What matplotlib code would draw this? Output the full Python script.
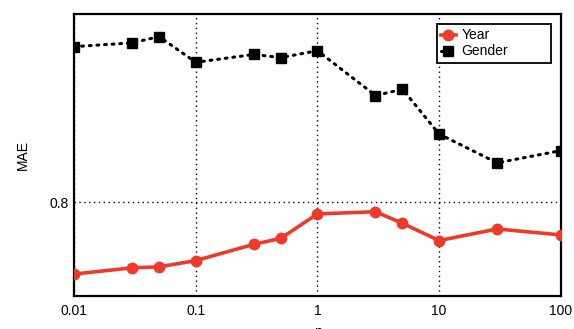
import matplotlib
matplotlib.use("Agg")
import matplotlib.pyplot as plt

n_values = [0.01, 0.03, 0.05, 0.1, 0.3, 0.5, 1, 3, 5, 10, 30, 100]
year_mae = [0.7770, 0.7790, 0.7793, 0.7813, 0.7865, 0.7884, 0.7962, 0.7969, 0.7932, 0.7877, 0.7914, 0.7895]
gender_mae = [0.8496, 0.8508, 0.8528, 0.8446, 0.8471, 0.8461, 0.8483, 0.8340, 0.8360, 0.8217, 0.8125, 0.8164]
x_ticks = [0.01, 0.1, 1, 10, 100]
x_tick_labels = ["0.01", "0.1", "1", "10", "100"]
y_ticks = [0.8]
y_tick_labels = ["0.8"]

plt.rcParams['font.family'] = ['Liberation Sans', 'DejaVu Sans']
fig = plt.figure(figsize=(5.74, 3.29), dpi=100)
ax = fig.add_axes([0.129, 0.1003, 0.848, 0.857])

red = '#ee3a2a'
ax.plot(n_values, year_mae, color=red, lw=2.6, marker='o', markersize=7.5,
        markerfacecolor=red, markeredgecolor=red, label='Year', zorder=3)
ax.plot(n_values, gender_mae, color='black', lw=2.2, linestyle=(0, (0.6, 1.9)),
        dash_capstyle='round', marker='s', markersize=7, markerfacecolor='black',
        markeredgecolor='black', label='Gender', zorder=3)

ax.set_xscale('log')
ax.set_xlim(0.01, 100)
ax.set_ylim(0.77, 0.86)
ax.set_xticks(x_ticks)
ax.set_xticklabels(x_tick_labels)
ax.minorticks_off()
ax.set_yticks(y_ticks)
ax.set_yticklabels(y_tick_labels)
ax.tick_params(axis='x', length=0, labelsize=10, pad=6)
ax.tick_params(axis='y', length=0, labelsize=10, pad=4)
ax.grid(True, which='major', color='black', linestyle=(0, (1, 2.5)), lw=1.0)
for s in ax.spines.values():
    s.set_linewidth(1.6)
ax.set_xlabel('n', fontsize=10, labelpad=5)
ax.set_ylabel('MAE', fontsize=10, labelpad=14)

leg = ax.legend(loc='upper left', bbox_to_anchor=(0.745, 0.833, 0.234, 0.131),
                mode='expand', fontsize=10,
                fancybox=False, edgecolor='black', framealpha=1,
                handlelength=1.1, handletextpad=0.4, borderpad=0.3,
                labelspacing=0.15, borderaxespad=0.0)
leg.get_frame().set_linewidth(1.3)

fig.savefig('out.png', dpi=100)
